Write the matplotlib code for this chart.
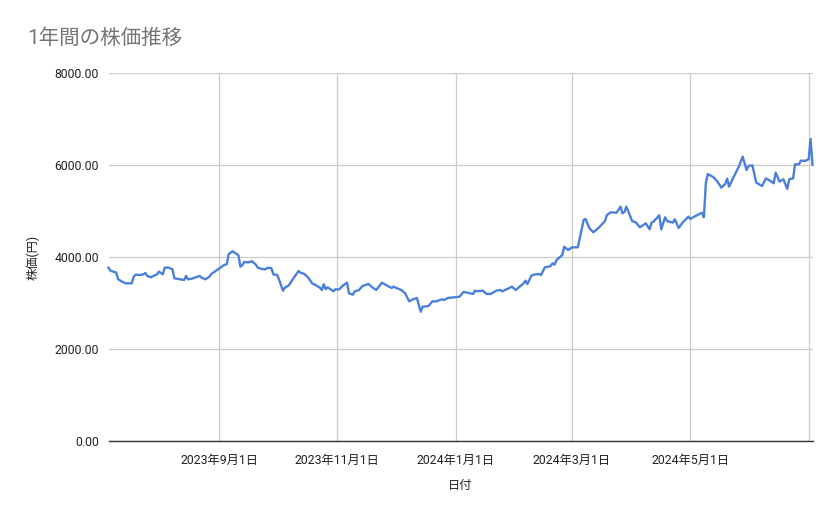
import matplotlib
matplotlib.use("Agg")
import matplotlib.pyplot as plt
import matplotlib.dates as mdates
import pandas as pd

dates = [
    "2023-07-06", "2023-07-07", "2023-07-10", "2023-07-11", "2023-07-13", "2023-07-15", "2023-07-18",
    "2023-07-19", "2023-07-20", "2023-07-22", "2023-07-24", "2023-07-25", "2023-07-26", "2023-07-28",
    "2023-07-29", "2023-07-31", "2023-08-01", "2023-08-03", "2023-08-04", "2023-08-06", "2023-08-08",
    "2023-08-09", "2023-08-11", "2023-08-14", "2023-08-15", "2023-08-16", "2023-08-18", "2023-08-20",
    "2023-08-22", "2023-08-23", "2023-08-25", "2023-08-27", "2023-08-28", "2023-08-31", "2023-09-02",
    "2023-09-03", "2023-09-05", "2023-09-06", "2023-09-08", "2023-09-09", "2023-09-11", "2023-09-12",
    "2023-09-13", "2023-09-14", "2023-09-16", "2023-09-18", "2023-09-20", "2023-09-21", "2023-09-23",
    "2023-09-25", "2023-09-26", "2023-09-28", "2023-09-29", "2023-10-01", "2023-10-02", "2023-10-04",
    "2023-10-05", "2023-10-07", "2023-10-09", "2023-10-12", "2023-10-13", "2023-10-15", "2023-10-17",
    "2023-10-19", "2023-10-21", "2023-10-23", "2023-10-24", "2023-10-25", "2023-10-26", "2023-10-27",
    "2023-10-30", "2023-10-31", "2023-11-02", "2023-11-04", "2023-11-06", "2023-11-07", "2023-11-09",
    "2023-11-10", "2023-11-12", "2023-11-14", "2023-11-17", "2023-11-19", "2023-11-21", "2023-11-24",
    "2023-11-26", "2023-11-29", "2023-11-30", "2023-12-01", "2023-12-04", "2023-12-06", "2023-12-08",
    "2023-12-10", "2023-12-12", "2023-12-14", "2023-12-15", "2023-12-18", "2023-12-20", "2023-12-22",
    "2023-12-25", "2023-12-26", "2023-12-28", "2023-12-31", "2024-01-03", "2024-01-05", "2024-01-07",
    "2024-01-10", "2024-01-11", "2024-01-12", "2024-01-15", "2024-01-17", "2024-01-19", "2024-01-22",
    "2024-01-24", "2024-01-25", "2024-01-28", "2024-01-30", "2024-02-01", "2024-02-03", "2024-02-05",
    "2024-02-06", "2024-02-07", "2024-02-09", "2024-02-10", "2024-02-13", "2024-02-14", "2024-02-16",
    "2024-02-18", "2024-02-19", "2024-02-20", "2024-02-21", "2024-02-22", "2024-02-25", "2024-02-26",
    "2024-02-28", "2024-03-01", "2024-03-04", "2024-03-07", "2024-03-08", "2024-03-10", "2024-03-12",
    "2024-03-15", "2024-03-18", "2024-03-19", "2024-03-21", "2024-03-24", "2024-03-26", "2024-03-27",
    "2024-03-28", "2024-03-29", "2024-04-01", "2024-04-03", "2024-04-05", "2024-04-08", "2024-04-10",
    "2024-04-11", "2024-04-12", "2024-04-15", "2024-04-16", "2024-04-18", "2024-04-19", "2024-04-22",
    "2024-04-23", "2024-04-25", "2024-04-27", "2024-04-30", "2024-05-01", "2024-05-03", "2024-05-07",
    "2024-05-08", "2024-05-09", "2024-05-10", "2024-05-13", "2024-05-15", "2024-05-17", "2024-05-19",
    "2024-05-20", "2024-05-21", "2024-05-23", "2024-05-26", "2024-05-28", "2024-05-30", "2024-05-31",
    "2024-06-02", "2024-06-04", "2024-06-07", "2024-06-09", "2024-06-11", "2024-06-13", "2024-06-14",
    "2024-06-16", "2024-06-18", "2024-06-20", "2024-06-21", "2024-06-23", "2024-06-24", "2024-06-26",
    "2024-06-27", "2024-06-29", "2024-07-01", "2024-07-02", "2024-07-03",
]

prices = [
    3775, 3709, 3666, 3522, 3470, 3434, 3434,
    3579, 3622, 3615, 3630, 3659, 3594, 3565,
    3594, 3630, 3688, 3630, 3775, 3775, 3739,
    3543, 3528, 3507, 3594, 3522, 3536, 3565,
    3594, 3557, 3522, 3579, 3637, 3724, 3782,
    3818, 3854, 4072, 4130, 4101, 4043, 3797,
    3826, 3898, 3891, 3913, 3840, 3775, 3746,
    3739, 3775, 3761, 3630, 3615, 3507, 3274,
    3340, 3391, 3522, 3702, 3666, 3637, 3557,
    3434, 3391, 3340, 3289, 3413, 3311, 3348,
    3261, 3304, 3304, 3391, 3449, 3217, 3188,
    3261, 3283, 3376, 3420, 3348, 3289, 3449,
    3398, 3333, 3362, 3340, 3289, 3217, 3043,
    3087, 3115, 2817, 2926, 2941, 3043, 3043,
    3087, 3072, 3115, 3130, 3144, 3246, 3231,
    3202, 3275, 3261, 3275, 3202, 3202, 3275,
    3289, 3261, 3318, 3362, 3289, 3362, 3434,
    3492, 3420, 3594, 3622, 3637, 3615, 3782,
    3797, 3811, 3869, 3840, 3941, 4050, 4231,
    4159, 4217, 4217, 4811, 4833, 4630, 4543,
    4652, 4789, 4920, 4978, 4970, 5101, 4956,
    4985, 5101, 4789, 4753, 4652, 4739, 4609,
    4753, 4775, 4913, 4609, 4870, 4789, 4753,
    4826, 4637, 4753, 4883, 4833, 4883, 4970,
    4870, 5609, 5811, 5739, 5645, 5514, 5594,
    5710, 5536, 5717, 5970, 6188, 5898, 5985,
    6000, 5623, 5550, 5717, 5666, 5609, 5840,
    5645, 5696, 5485, 5696, 5717, 6022, 6022,
    6101, 6094, 6130, 6572, 6007,
]

x_ticks = ["2023-09-01", "2023-11-01", "2024-01-01", "2024-03-01", "2024-05-01", "2024-07-01"]
x_tick_labels = ["2023年9月1日", "2023年11月1日", "2024年1月1日", "2024年3月1日", "2024年5月1日", ""]
y_ticks = [0, 2000, 4000, 6000, 8000]
y_tick_labels = ["0.00", "2000.00", "4000.00", "6000.00", "8000.00"]

title = "1年間の株価推移"
x_label = "日付"
y_label = "株価(円)"

FONTS = ["Roboto", "Noto Sans CJK JP", "DejaVu Sans"]
plt.rcParams["font.family"] = FONTS

W, H = 839, 519
fig = plt.figure(figsize=(W / 100, H / 100), dpi=100)
left, right, top, bottom = 108.5, 812.5, 73.3, 441.3
ax = fig.add_axes([left / W, 1 - bottom / H, (right - left) / W, (bottom - top) / H])

dt = pd.to_datetime(dates)
ax.plot(dt, prices, color="#4a80dc", linewidth=1.7, solid_joinstyle="round", zorder=3, clip_on=False)

ax.set_xlim(dt[0], dt[-1])
ax.set_ylim(0, 8000)

ax.set_xticks(pd.to_datetime(x_ticks))
ax.set_xticklabels(x_tick_labels)
ax.set_yticks(y_ticks)
ax.set_yticklabels(y_tick_labels)

ax.grid(True, color="#cccccc", linewidth=0.9, zorder=0)
ax.set_axisbelow(True)
for s in ["top", "right", "left"]:
    ax.spines[s].set_visible(False)
ax.spines["bottom"].set_color("#333333")
ax.spines["bottom"].set_linewidth(1.0)
ax.spines["bottom"].set_zorder(4)

ax.tick_params(axis="both", length=0, labelsize=8.8, labelcolor="#222222")
ax.tick_params(axis="x", pad=9)
ax.tick_params(axis="y", pad=7)

fig.text(27 / W, 1 - 38 / H, title, fontsize=14.8, color="#757575", ha="left", va="center")
fig.text(460 / W, 1 - 486 / H, x_label, fontsize=8.8, color="#222222", ha="center", va="center")
fig.text(33 / W, 1 - 257 / H, y_label, fontsize=8.8, color="#222222", ha="center", va="center", rotation=90)

fig.savefig("out.png", dpi=100)
